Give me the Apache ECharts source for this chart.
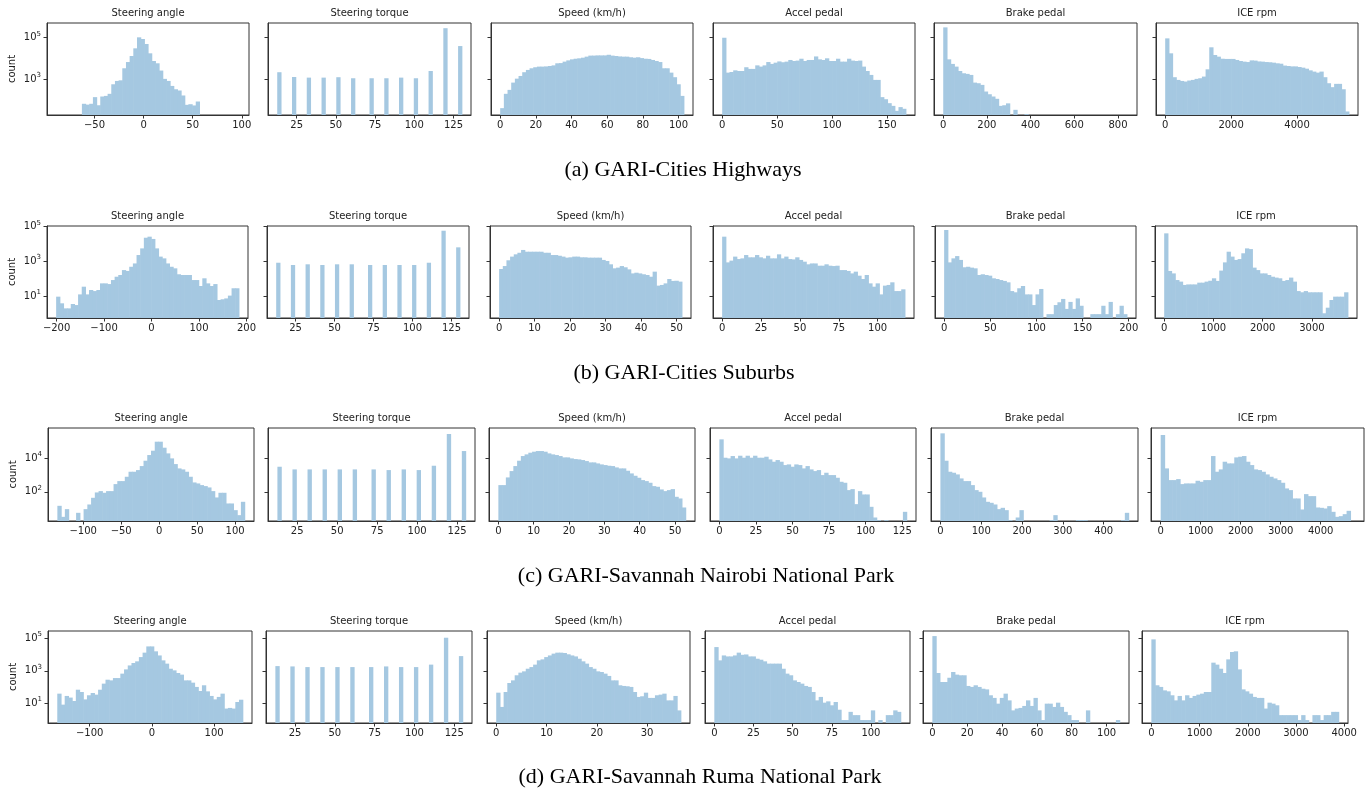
<!DOCTYPE html>
<html>
<head>
<meta charset="utf-8">
<script src="https://cdn.jsdelivr.net/npm/echarts@6/dist/echarts.min.js"></script>
<style>
  html, body { margin: 0; padding: 0; background: #fff; }
  #main { width: 1372px; height: 794px; }
</style>
</head>
<body>
<div id="main"></div>
<script>
  var _ = null;

  var titles = ['Steering angle', 'Steering torque', 'Speed (km/h)', 'Accel pedal', 'Brake pedal', 'ICE rpm'];
  var captions = ['(a) GARI-Cities Highways', '(b) GARI-Cities Suburbs',
    '(c) GARI-Savannah Nairobi National Park', '(d) GARI-Savannah Ruma National Park'];

  // bin range [lo, hi] of each histogram (50 bins each)
  var rangesA = [[-89, 98], [12.6, 130.3], [0, 103], [0, 167], [0, 845], [0, 5570]];
  var rangesB = [[-201, 184], [12.6, 130.3], [0, 51.5], [0, 117.5], [0, 198], [0, 3730]];
  var rangesC = [[-134, 112.5], [12.6, 130.3], [0, 53], [0, 128], [0, 461], [0, 4840]];
  var rangesD = [[-152, 146], [12.6, 130.3], [0, 36.7], [0, 119], [0, 107.5], [0, 3885]];

  // x tick labels
  var xTicksA = [[-50, 0, 50, 100], [25, 50, 75, 100, 125], [0, 20, 40, 60, 80, 100], [0, 50, 100, 150], [0, 200, 400, 600, 800], [0, 2000, 4000]];
  var xTicksB = [[-200, -100, 0, 100, 200], [25, 50, 75, 100, 125], [0, 10, 20, 30, 40, 50], [0, 25, 50, 75, 100], [0, 50, 100, 150, 200], [0, 1000, 2000, 3000]];
  var xTicksC = [[-150, -100, -50, 0, 50, 100], [25, 50, 75, 100, 125], [0, 10, 20, 30, 40, 50], [0, 25, 50, 75, 100, 125], [0, 100, 200, 300, 400], [0, 1000, 2000, 3000, 4000]];
  var xTicksD = [[-100, 0, 100], [25, 50, 75, 100, 125], [0, 10, 20, 30], [0, 25, 50, 75, 100], [0, 20, 40, 60, 80, 100], [0, 1000, 2000, 3000, 4000]];

  // y range and ticks, as powers of ten (log axis, shared in a row)
  var yExpA = [1.28, 5.71], yTicksA = [3, 5];
  var yExpB = [-0.22, 5.04], yTicksB = [1, 3, 5];
  var yExpC = [0.25, 5.82], yTicksC = [2, 4];
  var yExpD = [-0.18, 5.43], yTicksD = [1, 3, 5];

  // log10(count) per bin, null = empty bin
  var angleA = [_,_,_,_,_,_,_,1.82,1.78,1.82, 2.14,1.75,2.17,2.20,2.30,2.76,2.92,2.95,3.53,3.83,
    4.12,4.49,5.02,4.94,4.70,4.25,3.88,3.77,3.42,3.02, 2.92,2.68,2.52,2.46,2.22,1.77,1.80,1.74,1.93,_,
    _,_,_,_,_,_,_,_,_,_];
  var torqueA = [3.34,_,_,_,3.11,_,_,_,3.08,_, _,_,3.08,_,_,_,3.10,_,_,_,
    3.05,_,_,_,_,3.05,_,_,_,3.05, _,_,_,3.08,_,_,_,3.05,_,_, _,3.40,_,_,_,5.46,_,_,_,4.60];
  var speedA = [1.61,2.30,2.49,2.84,3.03,3.16,3.34,3.45,3.53,3.58, 3.61,3.61,3.62,3.64,3.67,3.77,3.78,3.85,3.91,3.96,
    3.99,4.01,4.04,4.09,4.14,4.14,4.15,4.15,4.15,4.18, 4.14,4.12,4.10,4.09,4.09,4.06,4.04,4.06,4.02,3.99,
    3.98,3.93,3.88,3.83,3.53,3.53,3.32,3.10,2.76,2.20];
  var accelA = [5.00,3.32,3.35,3.43,3.40,3.40,3.58,3.50,3.50,3.67, 3.61,3.67,3.83,3.74,3.80,3.86,3.82,3.85,3.93,3.88,
    3.90,3.99,3.88,3.93,3.93,4.10,3.96,3.93,4.01,3.88, 3.88,3.99,3.85,3.85,3.99,3.90,3.88,3.90,3.61,3.40,
    3.21,2.97,2.97,2.14,2.04,1.85,1.72,1.48,1.66,1.58];
  var brakeA = [5.50,3.96,3.74,3.61,3.40,3.29,3.26,3.21,2.84,2.81, 2.73,2.41,2.28,2.17,2.06,1.72,1.75,1.84,_,1.53,
    _,_,1.32,_,_,_,_,_,_,_, _,_,_,_,_,_,_,_,_,_, _,_,_,_,_,_,_,_,_,_];
  var iceA = [4.97,4.25,3.10,2.97,2.92,2.89,2.94,2.97,3.02,3.05, 3.13,3.48,4.54,4.17,4.09,3.99,3.98,3.98,3.98,3.93,
    3.88,3.85,3.83,3.91,3.90,3.86,3.85,3.83,3.82,3.80, 3.77,3.75,3.66,3.64,3.62,3.62,3.59,3.56,3.51,3.43,
    3.37,3.32,3.37,3.10,2.81,2.62,2.78,2.78,2.52,1.45];

  var angleB = [1.00,0.62,0.33,0.33,0.58,0.52,1.13,1.57,1.13,1.38, 1.32,1.38,1.76,1.76,1.72,1.95,2.14,2.24,2.52,2.47,
    2.71,2.90,3.38,3.76,4.37,4.43,4.30,3.76,3.29,3.19, 2.90,2.71,2.62,2.28,2.24,2.24,2.24,1.95,1.95,1.61,
    2.05,1.76,1.61,1.72,0.81,0.85,0.90,1.06,1.48,1.48];
  var torqueB = [2.94,_,_,_,2.81,_,_,_,2.85,_, _,_,2.81,_,_,_,2.85,_,_,_,
    2.85,_,_,_,_,2.81,_,_,_,2.81, _,_,_,2.81,_,_,_,2.81,_,_, _,2.94,_,_,_,4.77,_,_,_,3.82];
  var speedB = [2.58,2.75,3.08,3.29,3.42,3.51,3.67,3.57,3.57,3.57, 3.57,3.57,3.51,3.51,3.38,3.38,3.34,3.29,3.23,3.25,
    3.29,3.29,3.25,3.25,3.23,3.23,3.23,3.23,3.10,3.04, 2.85,2.62,2.66,2.75,2.68,2.56,2.33,2.37,2.33,2.28,
    2.24,2.14,2.43,1.63,1.67,1.76,2.01,1.90,1.91,1.86];
  var accelB = [4.43,2.96,3.06,3.29,3.15,3.19,3.38,3.25,3.25,3.38, 3.25,3.19,3.34,3.19,3.19,3.42,3.19,3.29,3.15,3.13,
    3.25,3.10,3.00,2.85,2.90,2.90,2.77,2.77,2.85,2.77, 2.75,2.77,2.52,2.52,2.47,2.33,2.43,2.20,2.01,2.24,
    1.76,1.57,1.76,1.13,1.63,1.67,1.82,1.32,1.32,1.42];
  var brakeB = [4.81,2.96,3.19,3.32,3.10,2.68,2.71,2.66,2.62,2.24, 2.28,2.24,2.20,2.05,2.01,1.95,1.90,1.82,1.32,1.25,
    1.48,1.61,1.13,1.13,0.52,1.13,1.44,_,0,0, 0.52,0.68,0.87,0.30,0.70,0.30,0.90,0.48,_,_,
    0,0,0,0.48,0,0.70,_,0,0.48,0];
  var iceB = [4.62,2.47,2.33,1.95,1.86,1.67,1.70,1.70,1.70,1.80, 1.80,1.86,1.91,2.05,1.90,2.49,2.96,3.57,3.29,3.10,
    3.15,3.48,3.76,3.72,2.66,2.52,2.33,2.33,2.24,2.14, 2.09,2.05,1.90,1.95,2.09,1.86,1.32,1.25,1.32,1.25,
    1.25,1.25,1.25,0.05,0.37,0.81,1.00,1.00,1.00,1.25];

  var angleC = [1.16,0.50,0.96,_,_,0.74,_,0.96,1.24,1.64, 1.96,2.04,1.94,2.04,2.04,2.46,2.64,2.64,2.90,3.20,
    3.20,3.30,3.54,3.86,4.20,4.46,5.00,5.00,4.64,4.30, 4.00,3.66,3.40,3.34,3.20,2.90,2.56,2.50,2.40,2.34,
    2.26,2.04,1.66,1.94,1.94,1.30,1.30,0.90,0.60,1.40];
  var torqueC = [3.50,_,_,_,3.34,_,_,_,3.34,_, _,_,3.34,_,_,_,3.34,_,_,_,
    3.34,_,_,_,_,3.34,_,_,_,3.30, _,_,_,3.34,_,_,_,3.30,_,_, _,3.56,_,_,_,5.46,_,_,_,4.44];
  var speedC = [2.40,2.40,2.86,3.24,3.54,3.86,4.14,4.24,4.34,4.40, 4.44,4.44,4.40,4.30,4.24,4.20,4.14,4.06,4.06,4.00,
    3.96,3.94,3.90,3.84,3.76,3.76,3.70,3.64,3.60,3.56, 3.54,3.46,3.40,3.40,3.26,3.10,2.96,2.84,2.70,2.64,
    2.54,2.34,2.30,2.14,2.04,2.10,2.16,1.70,1.60,1.06];
  var accelC = [5.14,4.04,4.00,4.14,4.00,4.16,4.04,4.16,4.04,4.16, 4.04,4.04,4.10,3.94,3.80,3.90,3.80,3.60,3.64,3.50,
    3.64,3.60,3.40,3.54,3.34,3.24,3.30,3.00,3.14,3.00, 3.00,2.84,2.60,2.54,2.10,2.16,1.26,2.04,1.84,1.84,
    1.10,0.46,0.30,_,0.30,_,_,_,_,0.80];
  var brakeC = [5.50,3.86,3.20,3.14,3.04,2.80,2.64,2.64,2.40,2.10, 2.00,1.66,1.40,1.34,1.24,0.96,1.04,0.90,0.30,_,
    0.46,0.90,_,_,_,_,_,_,_,0.30, 0.60,_,_,_,_,_,0.30,0.30,0.30,_, _,_,_,_,_,_,_,_,0.30,0.74];
  var iceC = [5.40,3.40,2.70,2.70,2.76,2.46,2.50,2.50,2.50,2.66, 2.60,2.70,2.70,4.14,3.20,3.34,3.80,3.70,3.70,4.06,
    4.10,4.14,3.80,3.60,3.34,3.30,3.20,3.04,2.90,2.80, 2.70,2.54,2.20,2.10,1.60,1.60,0.94,1.86,1.74,1.74,
    1.06,1.04,1.00,1.14,0.80,0.50,0.54,0.66,0.86,_];

  var angleD = [1.61,0.94,1.47,1.37,1.16,1.85,1.71,1.26,1.51,1.65, 1.55,1.85,2.22,2.46,2.42,2.56,2.56,2.83,3.09,3.33,
    3.48,3.58,3.84,4.11,4.49,4.49,4.19,3.94,3.64,3.44, 3.13,3.03,2.87,2.77,2.42,2.42,2.28,2.02,1.77,2.12,
    1.75,1.47,1.26,1.41,1.61,0.70,0.74,0.70,1.10,1.24];
  var torqueD = [3.29,_,_,_,3.27,_,_,_,3.23,_, _,_,3.23,_,_,_,3.23,_,_,_,
    3.23,_,_,_,_,3.23,_,_,_,3.27, _,_,_,3.23,_,_,_,3.23,_,_, _,3.38,_,_,_,5.02,_,_,_,3.90];
  var speedD = [1.67,0.80,1.71,2.26,2.42,2.73,2.89,2.97,3.13,3.23, 3.38,3.64,3.70,3.84,3.94,4.05,4.11,4.11,4.09,4.01,
    3.94,3.88,3.74,3.58,3.44,3.23,3.13,2.97,2.93,2.83, 2.69,2.42,2.42,2.12,2.08,2.06,2.02,1.71,1.41,1.45,
    1.67,1.35,1.35,1.51,1.55,1.61,1.20,1.20,1.47,0.59];
  var accelD = [4.45,3.64,3.94,3.88,3.88,3.94,4.11,3.98,4.00,3.88, 3.88,3.74,3.68,3.58,3.44,3.44,3.44,3.44,3.13,2.83,
    2.73,2.42,2.32,2.22,2.08,2.02,1.71,1.20,1.41,1.06, 1.14,0.90,1.10,0.63,0,0,0.50,0.30,0.30,0,
    0,0,0.59,_,0,_,0.30,0.30,0.59,0.50];
  var brakeD = [5.12,2.87,2.32,2.32,2.58,2.93,2.77,2.73,2.73,2.08, 2.02,2.12,2.02,1.91,1.87,1.51,1.35,1.00,1.35,1.61,
    1.20,0.59,0.70,0.74,0.86,1.20,0.86,1.35,0.59,0, 1.00,1.00,0.80,1.06,0.80,0.50,0.30,0,0,_,
    _,0.59,_,_,_,_,_,_,_,0];
  var iceD = [4.92,2.12,2.02,1.81,1.75,1.51,1.20,1.47,1.20,1.51, 1.35,1.47,1.55,1.61,1.71,1.71,3.50,3.38,3.13,2.87,
    3.70,4.15,4.19,3.09,1.87,1.75,1.61,1.41,1.35,1.35, 0.70,1.06,1.00,0.90,0.30,0.30,0.30,0.30,0.30,0,
    0.30,0,_,0.30,0.30,0,0.30,0.30,0.50,0.50];

  var rows = [
    { hist: [angleA, torqueA, speedA, accelA, brakeA, iceA], ranges: rangesA, xTicks: xTicksA, yExp: yExpA, yTicks: yTicksA },
    { hist: [angleB, torqueB, speedB, accelB, brakeB, iceB], ranges: rangesB, xTicks: xTicksB, yExp: yExpB, yTicks: yTicksB },
    { hist: [angleC, torqueC, speedC, accelC, brakeC, iceC], ranges: rangesC, xTicks: xTicksC, yExp: yExpC, yTicks: yTicksC },
    { hist: [angleD, torqueD, speedD, accelD, brakeD, iceD], ranges: rangesD, xTicks: xTicksD, yExp: yExpD, yTicks: yTicksD }
  ];

  // panel placement (pixels)
  var layout = [
    { top: 23, height: 92, lefts: [47, 268, 491, 713, 934, 1156], widths: [202, 203, 202, 202, 203, 202], capX: 683, capY: 170 },
    { top: 226, height: 92, lefts: [47, 267, 490, 713, 935, 1155], widths: [201, 202, 201, 201, 201, 202], capX: 684, capY: 373 },
    { top: 428, height: 93, lefts: [48, 268, 489, 710, 931, 1151], widths: [206, 207, 206, 206, 207, 213], capX: 706, capY: 576 },
    { top: 631, height: 92, lefts: [48, 266, 487, 705, 923, 1142], widths: [204, 206, 203, 205, 206, 206], capX: 700, capY: 777 }
  ];

  var BAR = '#a5c8e1';
  var INK = '#222';
  var FRAME = '#333';

  function fmt(v) { return v < 0 ? '\u2212' + (-v) : String(v); }

  function bins(range, logs) {
    var lo = range[0], w = (range[1] - range[0]) / logs.length, out = [];
    logs.forEach(function (v, i) {
      if (v !== null) out.push([lo + i * w, lo + (i + 1) * w, Math.pow(10, v)]);
    });
    return out;
  }

  // one rectangle per bin, from the count down to the bottom of the panel
  function renderBin(params, api) {
    var a = api.coord([api.value(0), api.value(2)]);
    var b = api.coord([api.value(1), api.value(2)]);
    var bottom = params.coordSys.y + params.coordSys.height;
    return {
      type: 'rect',
      shape: { x: a[0], y: a[1], width: b[0] - a[0] + 0.6, height: bottom - a[1] },
      style: { fill: BAR }
    };
  }

  var grids = [], xAxes = [], yAxes = [], series = [], texts = [];

  rows.forEach(function (row, r) {
    var L = layout[r];
    var yTickVals = row.yTicks.map(function (e) { return Math.pow(10, e); });
    for (var p = 0; p < 6; p++) {
      var k = grids.length;
      var lo = row.ranges[p][0], hi = row.ranges[p][1], span = hi - lo;
      grids.push({
        left: L.lefts[p], top: L.top, width: L.widths[p], height: L.height,
        show: true, borderColor: FRAME, borderWidth: 1, backgroundColor: 'transparent'
      });
      xAxes.push({
        gridIndex: k, type: 'value', z: 10,
        min: lo - 0.05 * span, max: hi + 0.05 * span,
        axisLine: { show: true, onZero: false, lineStyle: { color: FRAME, width: 1 } },
        axisTick: { show: true, customValues: row.xTicks[p], length: 3.5, lineStyle: { color: FRAME } },
        axisLabel: {
          customValues: row.xTicks[p], formatter: fmt, margin: 5,
          fontSize: 10, fontFamily: 'DejaVu Sans', color: INK
        },
        splitLine: { show: false }
      });
      yAxes.push({
        gridIndex: k, type: 'log', logBase: 10, z: 10,
        min: Math.pow(10, row.yExp[0]), max: Math.pow(10, row.yExp[1]),
        name: p === 0 ? 'count' : '', nameLocation: 'middle', nameGap: 30, nameRotate: 90,
        nameTextStyle: { fontSize: 10, fontFamily: 'DejaVu Sans', color: INK },
        axisLine: { show: true, onZero: false, lineStyle: { color: FRAME, width: 1 } },
        axisTick: { show: true, customValues: yTickVals, length: 3.5, lineStyle: { color: FRAME } },
        axisLabel: {
          show: p === 0, customValues: yTickVals, margin: 6,
          formatter: function (v) { return '{b|10}{s|' + Math.round(Math.log10(v)) + '}'; },
          rich: {
            b: { fontSize: 10, fontFamily: 'DejaVu Sans', color: INK },
            s: { fontSize: 7, fontFamily: 'DejaVu Sans', color: INK, padding: [0, 0, 8, 0] }
          }
        },
        splitLine: { show: false }
      });
      series.push({
        type: 'custom', xAxisIndex: k, yAxisIndex: k,
        renderItem: renderBin, data: bins(row.ranges[p], row.hist[p]),
        encode: { x: [0, 1], y: 2 }, silent: true
      });
      texts.push({
        type: 'text', x: L.lefts[p] + L.widths[p] / 2, y: L.top - 10,
        style: { text: titles[p], fontSize: 10, fontFamily: 'DejaVu Sans', fill: INK, textAlign: 'center', textVerticalAlign: 'middle' }
      });
    }
    texts.push({
      type: 'text', x: L.capX, y: L.capY,
      style: { text: captions[r], fontSize: 22, fontFamily: 'Liberation Serif', fill: '#000', textAlign: 'center', textVerticalAlign: 'middle' }
    });
  });

  var myChart = echarts.init(document.getElementById('main'));
  myChart.setOption({
    backgroundColor: '#fff',
    animation: false,
    grid: grids,
    xAxis: xAxes,
    yAxis: yAxes,
    series: series,
    graphic: texts
  });
</script>
</body>
</html>
